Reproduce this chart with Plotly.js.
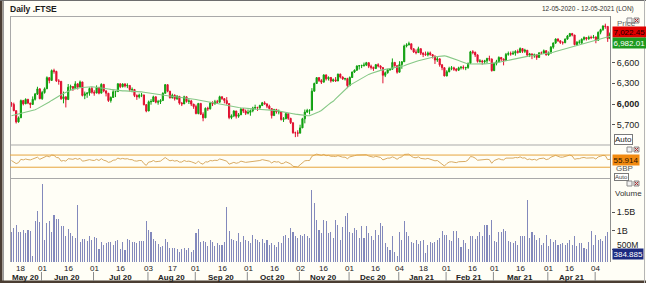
<!DOCTYPE html>
<html><head><meta charset="utf-8">
<script src="https://cdn.plot.ly/plotly-3.0.1.min.js"></script>
<style>html,body{margin:0;padding:0;background:#FFFEF6;}#c{width:646px;height:283px;}</style>
</head><body><div id="c"></div>
<script>
// ---- Data (trading days 12-05-2020 .. 12-05-2021), one row per month ----
const opens = [
 6010,5994,5904,5741,5800,6049,6002,6067,6015,5993,6068,6144,6219,
 6077,6166,6220,6382,6341,6484,6473,6335,6329,6077,6105,6064,6243,6253,6224,6292,6245,6320,6124,6147,6159,6225,
 6170,6158,6240,6157,6285,6189,6156,6050,6095,6176,6180,6293,6251,6290,6261,6269,6208,6211,6123,6104,6129,6131,5990,
 5898,6032,6036,6104,6027,6032,6050,6154,6280,6185,6090,6127,6076,6111,6013,6001,6104,6037,6045,5999,
 5963,5862,6009,5851,5799,5937,5930,6012,6003,6032,6026,6105,6078,6049,6007,5804,5829,5899,5822,5843,5927,5897,
 5866,5879,5902,5942,5949,5946,5978,6017,6001,5969,5935,5832,5919,5884,5889,5776,5786,5860,5792,5729,5583,5582,
 5577,5654,5786,5883,5906,5910,6186,6297,6382,6339,6316,6421,6365,6385,6334,6351,6333,6433,6391,6363,6368,
 6266,6384,6463,6490,6550,6555,6558,6564,6599,6547,6531,6513,6570,6550,6529,6416,6453,6496,6502,6602,6555,
 6461,6571,6612,6841,6857,6873,6799,6754,6745,6802,6736,6720,6712,6740,6716,6695,6638,6654,6567,6526,
 6407,6467,6517,6524,6504,6489,6524,6532,6524,6528,6589,6756,6748,6711,6617,6624,6612,6625,6659,6651,
 6483,6589,6613,6675,6651,6631,6719,6730,6725,6737,6761,6749,6803,6763,6779,6709,6726,6699,6713,6674,6741,6737,6772,
 6714,6737,6823,6885,6942,6916,6890,6889,6940,6984,7020,7000,6860,6896,6880,6938,6963,6945,6964,6962,
 6970,6924,7039,7077,7130,7124,6948
];
const highs = [
 6030,6020,5904,5820,6065,6060,6082,6075,6015,6110,6160,6250,6230,
 6190,6240,6400,6385,6500,6511,6480,6360,6329,6180,6105,6290,6280,6260,6330,6300,6340,6320,6180,6170,6240,6250,
 6200,6270,6250,6300,6285,6200,6160,6110,6200,6190,6300,6295,6300,6300,6300,6270,6240,6215,6140,6150,6160,6135,6000,
 6050,6070,6120,6110,6060,6070,6170,6290,6285,6190,6150,6140,6130,6111,6030,6120,6110,6070,6060,6000,
 5990,6010,6009,5880,5950,5960,6030,6040,6060,6060,6120,6110,6080,6100,6007,5850,5910,5900,5870,5940,5940,5920,
 5920,5920,5960,5990,5960,5990,6030,6040,6010,5990,5935,5930,5930,5920,5890,5810,5870,5860,5800,5730,5600,5620,
 5700,5800,5920,5930,5920,6230,6310,6390,6390,6360,6430,6430,6400,6390,6370,6390,6440,6440,6400,6380,6380,
 6400,6470,6500,6560,6560,6570,6600,6610,6600,6570,6540,6580,6590,6560,6529,6470,6510,6520,6660,6610,6560,
 6620,6620,6860,6880,6903,6873,6810,6790,6830,6802,6750,6760,6760,6760,6720,6700,6680,6660,6580,6530,
 6490,6540,6550,6540,6520,6540,6550,6560,6540,6600,6770,6780,6760,6720,6650,6640,6640,6670,6700,6660,
 6600,6640,6690,6680,6660,6740,6760,6760,6770,6780,6790,6820,6810,6800,6780,6740,6730,6730,6720,6750,6760,6790,6780,
 6760,6840,6890,6950,6950,6920,6910,6950,7000,7030,7030,7000,6910,6930,6950,6980,6970,6990,6990,7000,
 6980,7050,7090,7140,7164,7124,7040
];
const lows = [
 5960,5895,5718,5730,5800,5980,6000,5998,5940,5993,6050,6130,6070,
 6060,6150,6220,6300,6341,6440,6320,6280,6060,6010,5950,6064,6200,6190,6220,6210,6240,6110,6070,6090,6120,6150,
 6120,6158,6140,6157,6170,6110,6030,6020,6090,6100,6180,6230,6240,6240,6230,6180,6170,6100,6060,6080,6100,5980,5880,
 5898,5990,6030,6010,5990,6000,6050,6154,6170,6080,6080,6050,6060,5990,5970,6001,6020,6000,5970,5930,
 5850,5850,5840,5750,5799,5900,5920,5970,5990,6000,6020,6060,6010,5990,5780,5780,5810,5790,5800,5843,5870,5840,
 5850,5830,5880,5920,5900,5930,5970,5990,5940,5920,5790,5832,5860,5850,5760,5740,5780,5770,5710,5570,5520,5526,
 5577,5654,5720,5870,5850,5910,6180,6290,6320,6290,6316,6340,6340,6310,6320,6320,6333,6370,6350,6340,6230,
 6266,6380,6450,6480,6500,6520,6540,6550,6520,6500,6480,6510,6530,6500,6300,6390,6440,6480,6502,6540,6440,
 6460,6510,6610,6820,6850,6780,6740,6720,6740,6710,6680,6700,6690,6700,6660,6580,6610,6540,6490,6400,
 6400,6460,6490,6480,6470,6480,6500,6500,6490,6510,6589,6720,6680,6600,6600,6570,6580,6590,6620,6470,
 6483,6560,6600,6620,6560,6630,6700,6700,6710,6700,6730,6740,6740,6740,6690,6680,6650,6670,6640,6670,6720,6730,6700,
 6700,6737,6800,6870,6900,6870,6860,6880,6930,6970,6980,6850,6840,6870,6880,6920,6920,6930,6940,6950,
 6880,6920,7010,7060,7090,6900,6940
];
const closes = [
 5994,5904,5741,5800,6049,6002,6067,6015,5993,6068,6144,6219,6077,
 6166,6220,6382,6341,6484,6473,6335,6329,6077,6105,6064,6243,6253,6224,6292,6245,6320,6124,6147,6159,6225,6170,
 6158,6240,6157,6285,6189,6156,6050,6095,6176,6180,6293,6251,6290,6261,6269,6208,6211,6123,6104,6129,6131,5990,5898,
 6032,6036,6104,6027,6032,6050,6154,6280,6185,6090,6127,6076,6111,6013,6001,6104,6037,6045,5999,5963,
 5862,6009,5851,5799,5937,5930,6012,6003,6032,6026,6105,6078,6049,6007,5804,5829,5899,5822,5843,5927,5897,5866,
 5879,5902,5942,5949,5946,5978,6017,6001,5969,5935,5832,5919,5884,5889,5776,5786,5860,5792,5729,5583,5582,5577,
 5654,5786,5883,5906,5910,6186,6297,6382,6339,6316,6421,6365,6385,6334,6351,6333,6433,6391,6363,6368,6266,
 6384,6463,6490,6550,6555,6558,6564,6599,6547,6531,6513,6570,6550,6529,6416,6453,6496,6502,6602,6555,6461,
 6571,6612,6841,6857,6873,6799,6754,6745,6802,6736,6720,6712,6740,6716,6695,6638,6654,6567,6526,6407,
 6467,6517,6524,6504,6489,6524,6532,6524,6528,6589,6756,6748,6711,6617,6624,6612,6625,6659,6651,6483,
 6589,6613,6675,6651,6631,6719,6730,6725,6737,6761,6749,6803,6763,6779,6709,6726,6699,6713,6674,6741,6737,6772,6714,
 6737,6823,6885,6942,6916,6890,6889,6940,6984,7020,7000,6860,6896,6896,6938,6963,6945,6964,6962,6970,
 6924,7039,7077,7130,7124,6948,7022.45
];
// 20-day moving average
const ma20 = [
 5830,5838,5845,5852,5862,5870,5878,5886,5895,5905,5918,5933,5950,
 5968,5988,6008,6030,6052,6075,6098,6118,6135,6152,6170,6190,6200,6212,6222,6230,6236,6240,6244,6247,6249,6250,
 6247,6244,6240,6236,6230,6224,6218,6212,6206,6200,6194,6192,6190,6190,6189,6188,6186,6184,6182,6179,6175,6170,6164,
 6158,6152,6147,6141,6136,6131,6127,6123,6119,6116,6112,6108,6104,6099,6095,6090,6086,6082,6078,6073,
 6065,6058,6051,6044,6037,6030,6023,6016,6009,6002,5996,5991,5986,5981,5975,5969,5962,5956,5950,5945,5940,5936,
 5933,5930,5928,5926,5925,5924,5923,5921,5919,5916,5912,5908,5904,5899,5893,5887,5880,5873,5866,5859,5853,5847,
 5840,5836,5833,5831,5830,5842,5856,5871,5888,5906,5930,5960,5990,6018,6039,6075,6110,6145,6180,6215,6251,
 6272,6292,6313,6334,6355,6376,6395,6413,6429,6443,6456,6468,6478,6487,6494,6500,6506,6511,6516,6521,6525,
 6532,6540,6554,6568,6582,6594,6605,6615,6626,6636,6645,6654,6663,6671,6678,6684,6689,6693,6696,6698,
 6690,6680,6668,6656,6643,6630,6617,6604,6591,6579,6580,6582,6583,6583,6582,6582,6582,6583,6584,6584,
 6590,6597,6604,6612,6620,6628,6636,6644,6651,6659,6666,6672,6678,6684,6690,6695,6700,6705,6710,6715,6719,6723,6727,
 6734,6742,6751,6761,6771,6780,6789,6797,6806,6815,6826,6836,6846,6856,6866,6876,6887,6898,6910,6921,
 6929,6937,6946,6956,6966,6975,6982.01
];
// RSI (14)
const rsi = [
 52,48,42,45,56,54,57,55,54,57,60,63,56,
 60,62,67,64,70,69,62,61,50,52,50,58,58,56,59,56,59,50,51,52,55,53,
 52,56,52,58,53,51,46,48,53,54,60,57,59,57,58,55,55,51,50,52,52,42,36,
 47,48,52,48,49,50,56,62,56,51,53,50,52,47,47,52,49,50,48,46,
 42,50,43,40,48,47,52,51,53,52,57,55,53,50,40,42,46,43,45,50,48,46,
 47,48,50,51,50,52,55,54,52,50,44,49,47,48,42,43,48,45,41,33,31,31,
 38,45,51,52,52,66,70,73,71,69,72,68,69,66,66,65,68,65,63,63,58,
 64,67,68,70,70,70,70,71,67,65,63,66,64,62,54,57,60,60,64,61,56,
 62,64,72,72,73,66,62,61,64,59,58,57,59,57,55,51,52,46,43,34,
 42,47,48,46,45,48,49,48,49,54,65,64,60,53,54,53,54,56,55,43,
 52,54,58,55,54,60,60,59,60,62,61,64,60,61,55,57,54,56,53,58,58,60,55,
 57,63,66,69,66,63,63,66,68,70,67,56,58,58,61,62,60,61,61,61,
 57,64,66,69,68,55,55.914
];
// Volume in billions of shares
const volumeB = [
 0.96,1.06,1.15,0.95,0.95,1.02,0.93,1.02,0.99,0.30,1.26,1.54,1.22,
 2.27,0.75,1.20,1.25,0.97,1.41,1.32,1.31,1.11,1.13,0.85,1.04,0.93,0.84,0.79,1.70,0.70,0.76,0.76,0.72,0.84,0.75,
 0.82,0.79,0.51,0.70,0.61,0.66,0.69,0.69,0.61,0.72,0.75,0.51,0.69,0.48,0.76,0.75,0.69,0.70,0.67,0.72,0.73,0.72,1.25,
 1.02,0.97,0.78,0.73,0.64,0.55,0.57,0.76,0.70,0.52,0.52,0.52,0.51,0.43,0.51,0.54,0.48,0.54,0.41,0.48,
 0.93,1.04,0.70,0.72,0.70,0.57,0.75,0.70,0.57,0.66,0.61,0.62,0.70,1.63,0.99,0.78,0.75,0.73,0.93,0.70,0.84,0.75,
 0.72,0.66,0.88,0.77,0.75,0.70,0.78,0.66,0.75,0.61,0.67,0.61,0.55,0.70,0.66,0.84,0.88,0.79,1.06,0.97,0.84,0.79,
 0.88,0.84,0.91,0.84,0.80,2.09,1.75,1.29,1.02,0.93,1.29,1.25,0.93,0.97,0.79,1.29,1.15,0.75,1.10,1.39,1.46,
 0.97,0.93,1.06,1.02,0.79,1.13,0.79,1.11,0.93,0.85,0.75,1.02,0.88,1.20,1.11,0.66,0.55,0.48,0.84,0.43,0.31,
 0.97,0.75,1.25,0.97,0.84,0.70,0.66,0.75,0.64,0.72,0.75,0.39,0.61,0.70,0.66,0.70,0.75,0.79,0.99,0.88,
 0.88,0.75,0.73,0.99,0.99,0.79,0.55,0.75,0.66,0.50,0.84,0.84,0.76,0.86,0.97,0.86,1.15,1.15,0.88,1.29,
 0.72,0.70,0.95,0.95,1.04,1.00,0.72,0.70,0.67,0.72,0.61,0.86,0.84,0.84,1.83,0.79,0.95,0.88,0.75,0.79,0.61,0.67,0.88,
 0.57,0.76,0.70,0.75,0.61,0.64,0.67,0.61,0.67,0.75,0.61,0.84,0.57,0.66,0.67,0.52,0.50,0.70,0.99,0.61,
 0.88,0.75,0.76,0.73,0.84,0.95,0.384885
];
// Axis labels (trading-day index of each labelled date)
const dayTickIdx  = [4,13,24,35,46,58,68,78,89,100,111,122,132,143,154,164,174,184,195,204,215,227,236,247];
const dayTickText = ['18','01','16','01','16','03','17','01','16','01','16','02','16','01','16','04','18','01','16','01','16','01','16','04'];
const monthNames  = ['May 20','Jun 20','Jul 20','Aug 20','Sep 20','Oct 20','Nov 20','Dec 20','Jan 21','Feb 21','Mar 21','Apr 21'];
const monthStart  = [0,13,35,58,78,100,122,143,164,184,204,227,247];
const priceTicks  = [5700,6000,6300,6600];
const priceTickText = ['5,700','<b>6,000</b>','6,300','6,600'];
const volTicks    = [0.5,1,1.5];
const volTickText = ['','1B','1.5B'];   // 500M drawn as a label just above the value box

// ---- Build ----
const FONT = 'Liberation Sans, Arial, sans-serif';
const FS = 8;
const xs = closes.map((_, i) => i);
const vol = volumeB.map(v => v * 1e9);

// pixel -> paper helpers (plot area x 10..611, y 16..262)
const L = 10, R = 611, T = 16, B = 262;
const xp = px => (px - L) / (R - L);
const yp = py => (B - py) / (B - T);

const traces = [
  {type:'candlestick', x:xs, open:opens, high:highs, low:lows, close:closes, xaxis:'x', yaxis:'y',
   increasing:{line:{color:'#10A010', width:1}, fillcolor:'#10A010'},
   decreasing:{line:{color:'#E01030', width:1}, fillcolor:'#E01030'},
   whiskerwidth:0, hoverinfo:'skip'},
  {type:'scatter', mode:'lines', x:xs, y:ma20, xaxis:'x', yaxis:'y',
   line:{color:'#86C886', width:1.1}, hoverinfo:'skip'},
  {type:'scatter', mode:'lines', x:xs, y:rsi, xaxis:'x', yaxis:'y2',
   line:{color:'#D8AA62', width:1}, hoverinfo:'skip'},
  {type:'bar', x:xs, y:vol, xaxis:'x', yaxis:'y3', width:0.45,
   marker:{color:'#8389BC', line:{width:0}}, hoverinfo:'skip'}
];

const gridCol = '#A9A9A9';
const shapes = [];
function pline(x0,y0,x1,y1,col,w){ shapes.push({type:'line', xref:'paper', yref:'paper', x0:xp(x0), y0:yp(y0), x1:xp(x1), y1:yp(y1), line:{color:col, width:w||1}}); }
function prect(x0,y0,x1,y1,fill,lc){ shapes.push({type:'rect', xref:'paper', yref:'paper', x0:xp(x0), y0:yp(y0), x1:xp(x1), y1:yp(y1), fillcolor:fill, line:{color:lc||fill, width:lc?1:0}}); }

// outer frame
prect(0,0,2.5,283,'#4B3E33');
pline(3.5,0,3.5,283,'#9A9A9A',1);
prect(0,280.5,646,283,'#4B3E33');
pline(0,0.5,646,0.5,'#6E6E6E',1);
pline(644.5,0,644.5,283,'#B5B5B5',1);
// panel borders
pline(10,16.5,610.5,16.5,gridCol);
pline(10,145,610.5,145,gridCol);
pline(10,178.5,610.5,178.5,gridCol);
pline(10.5,16,10.5,262,gridCol);
pline(610.5,16,610.5,262,'#8E8E8E');
// RSI level lines (70 / 30)
[70,30].forEach(v => shapes.push({type:'line', xref:'paper', yref:'y2', x0:0, x1:xp(610), y0:v, y1:v, line:{color:'#E6A43C', width:1}}));
// month separators under day labels
monthStart.slice(1).forEach(i => shapes.push({type:'line', xref:'x', yref:'paper', x0:i-0.3, x1:i-0.3, y0:yp(272), y1:yp(281), line:{color:'#8A8A8A', width:1}}));
// small panel icons
[18,147,181].forEach(py => {
  prect(627,py,632,py+5,'#F2F2F2','#8C8C8C');
  prect(634,py,639,py+5,'#D9D9D9','#8C8C8C');
  pline(634.8,py+0.8,638.2,py+4.2,'#B03030',1);
  pline(634.8,py+4.2,638.2,py+0.8,'#B03030',1);
});

const ann = [];
function txt(px,py,text,opt){ ann.push(Object.assign({xref:'paper', yref:'paper', x:xp(px), y:yp(py), text:text, showarrow:false, xanchor:'left', yanchor:'middle', font:{family:FONT, size:FS, color:'#222'}}, opt||{})); }

txt(8,9,'<b>Daily .FTSE</b>',{font:{family:FONT,size:8.5,color:'#1A1A1A'}});
txt(636,9,'12-05-2020 - 12-05-2021 (LON)',{xanchor:'right',font:{family:FONT,size:6.5,color:'#333'}});
txt(615,23.5,'Price',{font:{family:FONT,size:FS,color:'#666'}});
txt(611.5,32.5,'7,022.45',{bgcolor:'#E00000',borderpad:0.5,font:{family:FONT,size:FS,color:'#1A0000'}});
txt(611.5,43,'6,982.01',{bgcolor:'#1E9A1E',borderpad:0.5,font:{family:FONT,size:FS,color:'#FFFFFF'}});
txt(614,139.5,'Auto',{bgcolor:'#FFFFFF',bordercolor:'#7A7A7A',borderwidth:1,borderpad:0,font:{family:FONT,size:FS,color:'#222'}});
txt(611.5,160,'55.914',{bgcolor:'#F28A10',borderpad:0.5,font:{family:FONT,size:FS,color:'#2A1400'}});
txt(614,168.5,'GBP',{font:{family:FONT,size:FS,color:'#555'}});
txt(614,176.5,'Auto',{bgcolor:'#FFFFFF',bordercolor:'#7A7A7A',borderwidth:1,borderpad:0,font:{family:FONT,size:6,color:'#444'}});
txt(613,193,'Volume',{font:{family:FONT,size:FS,color:'#333'}});
txt(615,245,'500M',{font:{family:FONT,size:8.5,color:'#222'}});
txt(611.5,254,'384.885',{bgcolor:'#1C2A80',borderpad:0.5,font:{family:FONT,size:FS,color:'#FFFFFF'}});
// day labels
dayTickIdx.forEach((i,k) => ann.push({xref:'x', yref:'paper', x:i, y:yp(268), text:dayTickText[k], showarrow:false, xanchor:'center', yanchor:'middle', font:{family:FONT,size:FS,color:'#222'}}));
// month labels
monthNames.forEach((m,k) => {
  const mid = (monthStart[k] + monthStart[k+1] - 1) / 2;
  ann.push({xref:'x', yref:'paper', x:mid, y:yp(277), text:'<b>'+m+'</b>', showarrow:false, xanchor:'center', yanchor:'middle', font:{family:FONT,size:FS,color:'#222'}});
});

const lens = [opens.length,highs.length,lows.length,closes.length,ma20.length,rsi.length,volumeB.length];
if (lens.some(l => l !== 254)) txt(200,100,'LEN '+lens.join(','),{font:{size:14,color:'red'}});

const layout = {
  width:646, height:283,
  margin:{l:L, r:646-R, t:T, b:283-B, pad:0},
  paper_bgcolor:'#FFFEF6', plot_bgcolor:'#FFFEF6',
  showlegend:false, dragmode:false,
  font:{family:FONT, size:FS, color:'#222'},
  xaxis:{domain:[0,1], range:[-0.6,253.4], anchor:'y3', showticklabels:false,
         ticks:'', showgrid:false, zeroline:false, showline:false, rangeslider:{visible:false}},
  yaxis:{domain:[yp(145),1], range:[5406,7275], side:'right', tickvals:priceTicks, ticktext:priceTickText,
         ticks:'outside', ticklen:3, tickcolor:'#555', showgrid:false, zeroline:false, showline:false,
         tickfont:{family:FONT,size:9,color:'#222'}},
  yaxis2:{domain:[yp(178.5),yp(145)], range:[-7,103], showticklabels:false, ticks:'', showgrid:false, zeroline:false, showline:false},
  yaxis3:{domain:[0,yp(178.5)], range:[0.149e9,2.405e9], side:'right', tickvals:volTicks.map(v=>v*1e9), ticktext:volTickText,
         ticks:'outside', ticklen:3, tickcolor:'#555', showgrid:false, zeroline:false, showline:false,
         tickfont:{family:FONT,size:9,color:'#222'}},
  bargap:0,
  shapes:shapes, annotations:ann
};
Plotly.newPlot('c', traces, layout, {staticPlot:true, displayModeBar:false});
</script></body></html>
